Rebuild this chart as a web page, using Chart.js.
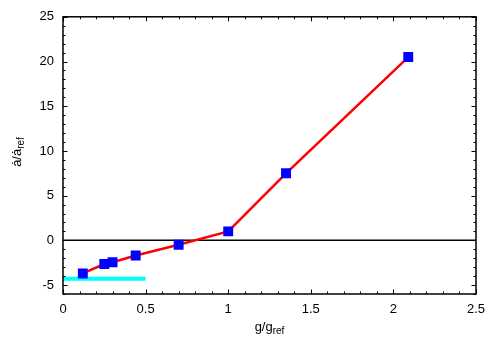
<!DOCTYPE html>
<html>
<head>
<meta charset="utf-8">
<script src="https://cdn.jsdelivr.net/npm/chart.js@4"></script>
<style>
  body { margin: 0; background: #fff; }
</style>
</head>
<body>
<canvas id="chart" width="500" height="350"></canvas>
<script>
// values
const gRatio = [0.12, 0.25, 0.30, 0.44, 0.70, 1.0, 1.35, 2.09];
const aRatio = [-3.7, -2.65, -2.45, -1.7, -0.5, 1.0, 7.5, 20.5];
const refX = [0, 0.5];
const refY = [-4.3, -4.3];
const zeroX = [0, 2.5];
const zeroY = [0, 0];

const FONT = "Liberation Sans, Arial, Helvetica, sans-serif";

const toPoints = (xs, ys) => xs.map((x, i) => ({ x: x, y: ys[i] }));

// ticks inside the frame on all four sides, plus titles with subscripts
const framePlugin = {
  id: "frame",
  afterDatasetsDraw(chart) {
    const ctx = chart.ctx;
    const a = chart.chartArea;
    const xs = chart.scales.x;
    const ys = chart.scales.y;
    ctx.save();
    ctx.strokeStyle = "#000";
    ctx.lineWidth = 1;
    ctx.beginPath();
    xs.ticks.forEach((t) => {
      const px = Math.round(xs.getPixelForValue(t.value)) + 0.5;
      const len = Math.round(t.value * 10) % 5 === 0 ? 4.5 : 2.5;
      ctx.moveTo(px, a.bottom);
      ctx.lineTo(px, a.bottom - len);
      ctx.moveTo(px, a.top);
      ctx.lineTo(px, a.top + len);
    });
    ys.ticks.forEach((t) => {
      const py = Math.round(ys.getPixelForValue(t.value)) + 0.5;
      const len = Math.round(t.value) % 5 === 0 ? 4.5 : 2.5;
      ctx.moveTo(a.left, py);
      ctx.lineTo(a.left + len, py);
      ctx.moveTo(a.right, py);
      ctx.lineTo(a.right - len, py);
    });
    ctx.stroke();
    ctx.lineWidth = 1.5;
    ctx.strokeRect(a.left, a.top, a.right - a.left, a.bottom - a.top);
    ctx.restore();
  },
  afterDraw(chart) {
    const ctx = chart.ctx;
    const a = chart.chartArea;
    ctx.save();
    ctx.fillStyle = "#000";
    ctx.textBaseline = "alphabetic";
    ctx.textAlign = "left";

    const drawSub = (main, sub, cx, base) => {
      ctx.font = "13px " + FONT;
      const w1 = ctx.measureText(main).width;
      ctx.font = "10px " + FONT;
      const w2 = ctx.measureText(sub).width;
      const x0 = cx - (w1 + w2) / 2;
      ctx.font = "13px " + FONT;
      ctx.fillText(main, x0, base);
      ctx.font = "10px " + FONT;
      ctx.fillText(sub, x0 + w1, base + 3);
    };

    drawSub("g/g", "ref", (a.left + a.right) / 2, 331);

    ctx.translate(21, 152);
    ctx.rotate(-Math.PI / 2);
    drawSub("ȧ/ȧ", "ref", 0, 0);
    ctx.restore();
  },
};

new Chart(document.getElementById("chart"), {
  type: "line",
  data: {
    datasets: [
      {
        data: toPoints(gRatio, aRatio),
        borderColor: "#ff0000",
        borderWidth: 2.5,
        pointStyle: "rect",
        pointRadius: 7,
        pointBorderWidth: 0,
        pointBackgroundColor: "#0000ff",
        pointBorderColor: "#0000ff",
        tension: 0,
      },
      {
        data: toPoints(refX, refY),
        borderColor: "#00ffff",
        borderWidth: 4,
        pointRadius: 0,
      },
      {
        data: toPoints(zeroX, zeroY),
        borderColor: "#000000",
        borderWidth: 1.5,
        pointRadius: 0,
      },
    ],
  },
  options: {
    responsive: false,
    devicePixelRatio: 1,
    animation: false,
    layout: { padding: { top: 16, right: 24, left: 0, bottom: 0 } },
    plugins: { legend: { display: false }, tooltip: { enabled: false } },
    scales: {
      x: {
        type: "linear",
        min: 0,
        max: 2.5,
        grid: { display: false, drawTicks: false },
        border: { display: false },
        afterFit: (s) => { s.height = 56; },
        ticks: {
          stepSize: 0.1,
          autoSkip: false,
          maxRotation: 0,
          padding: 8,
          color: "#000",
          font: { family: FONT, size: 13 },
          callback: (v) => {
            const k = Math.round(v * 10);
            return k % 5 === 0 ? String(k / 10) : "";
          },
        },
      },
      y: {
        type: "linear",
        min: -6,
        max: 25,
        grid: { display: false, drawTicks: false },
        border: { display: false },
        afterFit: (s) => { s.width = 63; },
        ticks: {
          stepSize: 1,
          autoSkip: false,
          padding: 9,
          color: "#000",
          font: { family: FONT, size: 13 },
          callback: (v) => (Math.round(v) % 5 === 0 ? String(Math.round(v)) : ""),
        },
      },
    },
  },
  plugins: [framePlugin],
});
</script>
</body>
</html>
